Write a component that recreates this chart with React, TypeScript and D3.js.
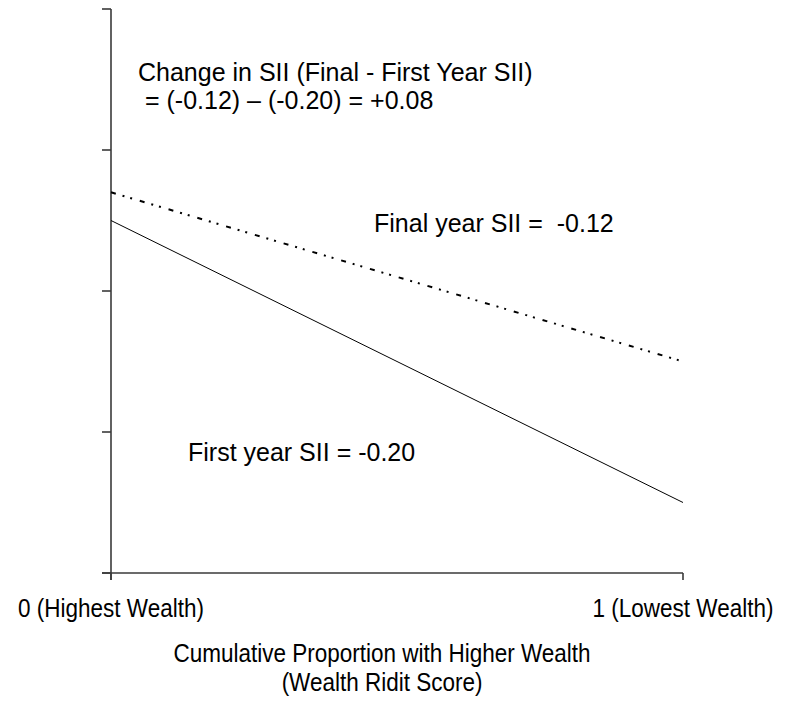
import React from "react";
import * as d3 from "d3";

// Data
const xEnds = [0, 1];
const firstYear = [0.25, 0.05]; // slope -0.20
const finalYear = [0.27, 0.15]; // slope -0.12
const yTicks = [0, 0.1, 0.2, 0.3, 0.4];
const xTickLabels = ["0 (Highest Wealth)", "1 (Lowest Wealth)"];
const xTitle = ["Cumulative Proportion with Higher Wealth", "(Wealth Ridit Score)"];
const changeText = ["Change in SII (Final - First Year SII)", " = (-0.12) \u2013 (-0.20) = +0.08"];
const finalLabel = "Final year SII =  -0.12";
const firstLabel = "First year SII = -0.20";

const W = 785;
const H = 701;
const FONT = "'Liberation Sans', Arial, sans-serif";

export default function App() {
  const x = d3.scaleLinear().domain([0, 1]).range([111, 683]);
  const y = d3.scaleLinear().domain([0, 0.4]).range([573, 9]);
  const line = d3
    .line<[number, number]>()
    .x((d) => x(d[0]))
    .y((d) => y(d[1]));
  const firstPts = xEnds.map((v, i) => [v, firstYear[i]] as [number, number]);
  const finalPts = xEnds.map((v, i) => [v, finalYear[i]] as [number, number]);
  const axisColor = "#3a3a3a";

  return (
    <svg
      width={W}
      height={H}
      style={{ position: "absolute", left: 0, top: 0, background: "#fff" }}
      fontFamily={FONT}
    >
      {/* y axis */}
      <line x1={x(0)} x2={x(0)} y1={y(0.4)} y2={y(0) + 7} stroke={axisColor} strokeWidth={1.6} />
      {yTicks.map((t) => (
        <line key={t} x1={x(0) - 9} x2={x(0)} y1={y(t)} y2={y(t)} stroke={axisColor} strokeWidth={1.6} />
      ))}
      {/* x axis */}
      <line x1={x(0) - 9} x2={x(1)} y1={y(0)} y2={y(0)} stroke={axisColor} strokeWidth={1.6} />
      {xEnds.map((v) => (
        <line key={v} x1={x(v)} x2={x(v)} y1={y(0)} y2={y(0) + 7} stroke={axisColor} strokeWidth={1.6} />
      ))}
      {xEnds.map((v, i) => (
        <text
          key={"xl" + v}
          transform={`translate(${x(v)},617) scale(0.9,1)`}
          textAnchor="middle"
          fontSize={25}
          fill="#000"
        >
          {xTickLabels[i]}
        </text>
      ))}
      {xTitle.map((t, i) => (
        <text
          key={"xt" + i}
          transform={`translate(382,${662 + i * 29}) scale(0.9,1)`}
          textAnchor="middle"
          fontSize={25}
          fill="#000"
        >
          {t}
        </text>
      ))}

      {/* lines */}
      <path d={line(firstPts) || ""} fill="none" stroke="#000" strokeWidth={1} />
      <path
        d={line(finalPts) || ""}
        fill="none"
        stroke="#000"
        strokeWidth={2}
        strokeDasharray="5,7,2,6,2,8"
      />

      {/* annotations */}
      {changeText.map((t, i) => (
        <text key={"c" + i} x={138} y={81 + i * 28} fontSize={25} fill="#000" style={{ whiteSpace: "pre" }}>
          {t}
        </text>
      ))}
      <text x={374} y={232} fontSize={25} fill="#000" style={{ whiteSpace: "pre" }}>
        {finalLabel}
      </text>
      <text x={188} y={461} fontSize={25} fill="#000" style={{ whiteSpace: "pre" }}>
        {firstLabel}
      </text>
    </svg>
  );
}
